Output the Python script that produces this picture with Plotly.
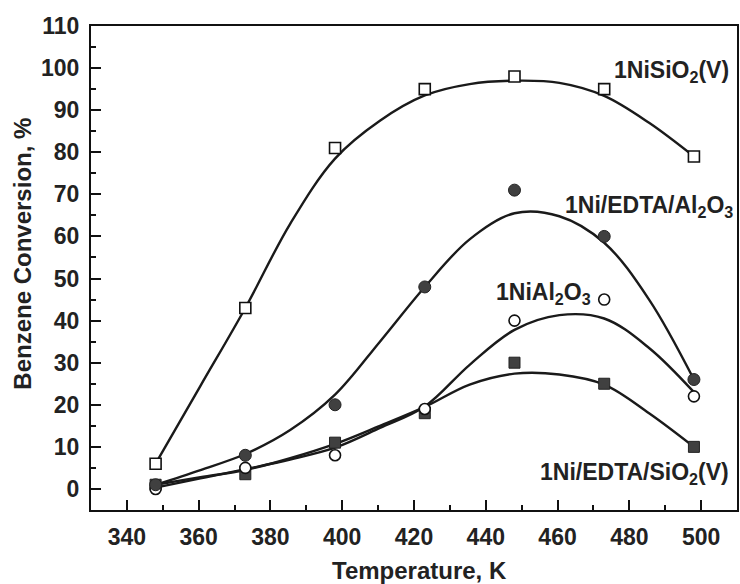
import plotly.graph_objects as go

# Measured points
temps = [348, 373, 398, 423, 448, 473, 498]
nisio2_pts = [6, 43, 81, 95, 98, 95, 79]
edta_al2o3_pts = [1, 8, 20, 48, 71, 60, 26]
nial2o3_pts = [0, 5, 8, 19, 40, 45, 22]
edta_sio2_pts = [1, 3.5, 11, 18, 30, 25, 10]

# Fitted trend curves
fit_temps = [348, 360.5, 373, 385.5, 398, 410.5, 423, 435.5, 448, 460.5, 473, 485.5, 498]
nisio2_fit = [6, 24.5, 43, 63, 78.5, 87.5, 93.5, 96.2, 97, 96.5, 93.4, 87, 79]
edta_al2o3_fit = [1, 4.5, 8.3, 14, 22.4, 35, 48, 59.3, 65.5, 64.8, 58.5, 45, 26]
nial2o3_fit = [0.3, 2.5, 4.7, 7, 9.8, 14.5, 19.6, 29.5, 37.8, 41.3, 40.5, 33.5, 23]
edta_sio2_fit = [1, 2.8, 4.5, 7.3, 10.7, 15, 19.5, 24.8, 27.4, 27.2, 24.8, 18, 10]

x_ticks = [340, 360, 380, 400, 420, 440, 460, 480, 500]
y_ticks = [0, 10, 20, 30, 40, 50, 60, 70, 80, 90, 100, 110]

FONT = "Liberation Sans"
LINE = "#1a1a1a"
FILL = "#404040"

fig = go.Figure()

for fit in [nisio2_fit, edta_al2o3_fit, nial2o3_fit, edta_sio2_fit]:
    fig.add_trace(go.Scatter(x=fit_temps, y=fit, mode="lines",
                             line=dict(color=LINE, width=2.4, shape="spline", smoothing=1.0),
                             showlegend=False, hoverinfo="skip"))

fig.add_trace(go.Scatter(x=temps, y=edta_sio2_pts, mode="markers",
                         marker=dict(symbol="square", size=11, color=FILL, line=dict(color="#222", width=1)),
                         showlegend=False))
fig.add_trace(go.Scatter(x=temps, y=nial2o3_pts, mode="markers",
                         marker=dict(symbol="circle", size=11, color="white", line=dict(color="#111", width=1.6)),
                         showlegend=False))
fig.add_trace(go.Scatter(x=temps, y=edta_al2o3_pts, mode="markers",
                         marker=dict(symbol="circle", size=12, color=FILL, line=dict(color="#222", width=1)),
                         showlegend=False))
fig.add_trace(go.Scatter(x=temps, y=nisio2_pts, mode="markers",
                         marker=dict(symbol="square", size=11, color="white", line=dict(color="#111", width=1.6)),
                         showlegend=False))

lab_font = dict(family=FONT, size=23, color="#222", weight="bold")
labels = [
    ("1NiSiO<sub>2</sub>(V)", 508.3, 99.3, "right"),
    ("1Ni/EDTA/Al<sub>2</sub>O<sub>3</sub>", 509.5, 67.0, "right"),
    ("1NiAl<sub>2</sub>O<sub>3</sub>", 442.2, 46.4, "left"),
    ("1Ni/EDTA/SiO<sub>2</sub>(V)", 508.3, 3.6, "right"),
]
for txt, lx, ly, anc in labels:
    fig.add_annotation(x=lx, y=ly, xref="x", yref="y", text=txt, showarrow=False,
                       xanchor=anc, yanchor="middle", font=lab_font)

fig.add_annotation(x=0.508, y=-0.124, xref="paper", yref="paper", text="Temperature, K",
                   showarrow=False, xanchor="center", yanchor="middle",
                   font=dict(family=FONT, size=24, color="#222", weight="bold"))
fig.add_annotation(x=-0.1065, y=0.530, xref="paper", yref="paper", text="Benzene Conversion, %",
                   showarrow=False, xanchor="center", yanchor="middle", textangle=-90,
                   font=dict(family=FONT, size=24, color="#222", weight="bold"))

axis_common = dict(showline=True, linewidth=2, linecolor="#111", mirror=True,
                   ticks="inside", ticklen=10, tickwidth=2, tickcolor="#111",
                   showgrid=False, zeroline=False,
                   tickfont=dict(family=FONT, size=23, color="#222", weight="bold"),
                   ticklabelstandoff=5)

fig.update_xaxes(range=[330, 510], tickvals=x_ticks, ticktext=[str(v) for v in x_ticks],
                 minor=dict(ticks="inside", ticklen=5, tickwidth=1.5, tickcolor="#111", dtick=10, tick0=330),
                 **axis_common)
fig.update_yaxes(range=[-5, 110], tickvals=y_ticks, ticktext=[str(v) for v in y_ticks],
                 minor=dict(ticks="inside", ticklen=5, tickwidth=1.5, tickcolor="#111", dtick=5, tick0=0),
                 **axis_common)

fig.update_layout(width=740, height=584, margin=dict(l=91, r=1, t=26, b=74),
                  paper_bgcolor="white", plot_bgcolor="white", showlegend=False)

fig.write_html("out.html", config={"displayModeBar": False},
               post_script="document.body.style.margin='0';document.body.style.padding='0';")
